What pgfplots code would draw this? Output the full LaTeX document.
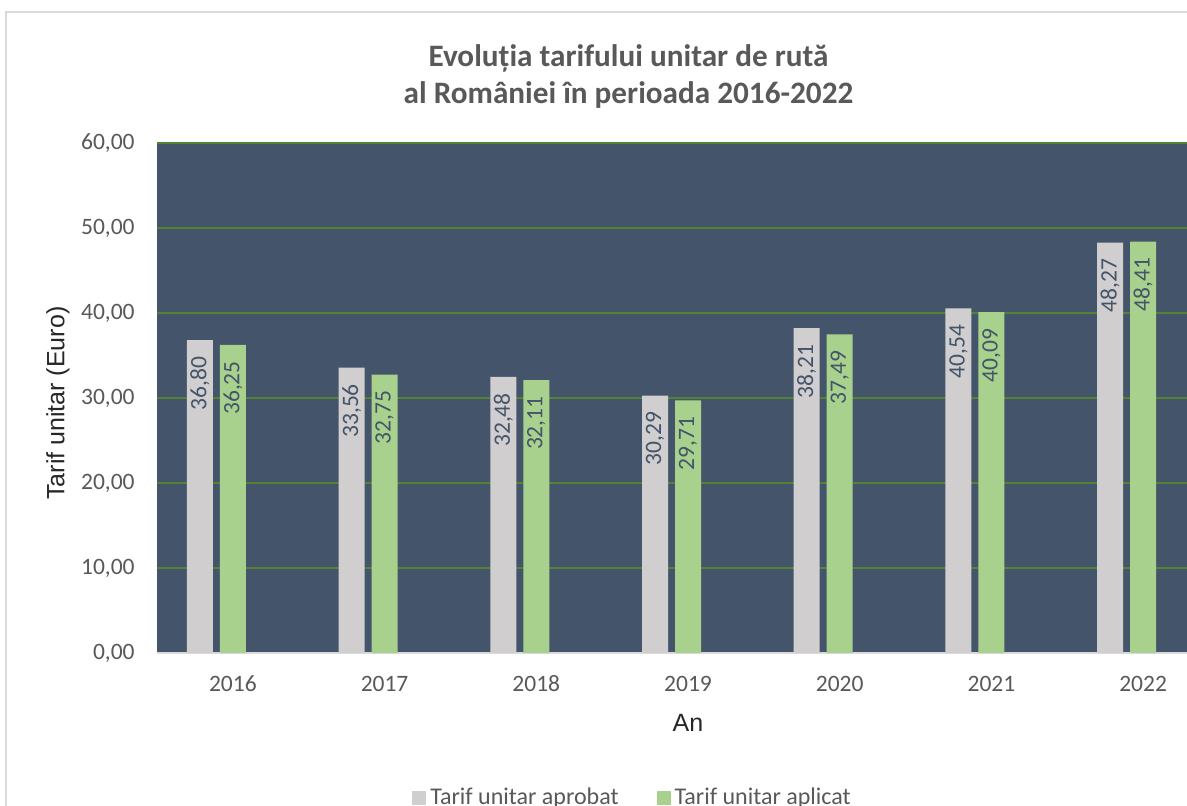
\documentclass[border=0pt]{standalone}
\usepackage{fontspec}
\setmainfont{Carlito}
\newfontfamily\arialf{Liberation Sans}
\usepackage{pgfplots}
\pgfplotsset{compat=1.18}
\definecolor{plotbg}{HTML}{44546A}
\definecolor{gridg}{HTML}{548235}
\definecolor{bargray}{HTML}{D0CECE}
\definecolor{bargreen}{HTML}{A9D18E}
\definecolor{txtgray}{HTML}{595959}
\definecolor{bordergray}{HTML}{D9D9D9}
\definecolor{axtitle}{HTML}{262626}
\begin{document}
\begin{tikzpicture}
\useasboundingbox (0,0) rectangle (593.5pt,403pt);
\clip (0,0) rectangle (593.5pt,403pt);
\fill[white] (0,0) rectangle (593.5pt,403pt);
\draw[bordergray, line width=0.75pt] (3pt,0pt) -- (3pt,397pt) -- (593.5pt,397pt);
\begin{axis}[
  at={(78.5pt,76.5pt)}, anchor=south west,
  scale only axis, width=531pt, height=255pt,
  xmin=-0.5, xmax=6.5, ymin=0, ymax=60,
  xtick={0,1,2,3,4,5,6},
  xticklabels={2016,2017,2018,2019,2020,2021,2022},
  ytick={0,10,20,30,40,50,60},
  axis background/.style={fill=plotbg},
  ymajorgrids, grid style={gridg, line width=0.75pt},
  axis x line*=bottom, axis y line*=left,
  x axis line style={bordergray, line width=1pt, -},
  y axis line style={draw=none},
  major tick length=0pt,
  tick style={draw=none},
  /pgf/number format/assume math mode=true,
  /pgf/number format/fixed,
  /pgf/number format/fixed zerofill,
  /pgf/number format/precision=2,
  /pgf/number format/use comma,
  ticklabel style={font=\fontsize{11.75pt}{13pt}\selectfont, text=txtgray},
  yticklabel style={anchor=east, inner sep=0pt, xshift=-11pt},
  xticklabel style={anchor=base, inner sep=0pt, yshift=-19.5pt},
  xlabel={An}, ylabel={Tarif unitar (Euro)},
  label style={font=\arialf\fontsize{12.5pt}{14pt}\selectfont, text=axtitle},
  xlabel style={at={(axis description cs:0.5,-0.138)}, anchor=center},
  ylabel style={at={(axis description cs:-0.0932,0.49)}, anchor=center},
  legend columns=2,
  legend style={at={(axis description cs:0.240,-0.284)}, anchor=west, draw=none, fill=none,
     inner sep=0pt, font=\fontsize{12pt}{13pt}\selectfont, text=txtgray,
     /tikz/every even column/.append style={column sep=17pt}},
]
\addplot[ybar, bar width=13pt, bar shift=-16.5pt, fill=bargray, draw=none, nodes near coords,
  nodes near coords style={xshift=-16.5pt, rotate=90, anchor=east, inner xsep=8pt, inner ysep=0pt,
     font=\fontsize{11.75pt}{13pt}\selectfont, text=plotbg},
  legend image code/.code={\fill[bargray] (0pt,-3.5pt) rectangle (7pt,3.5pt);}]
  coordinates {(0,36.80) (1,33.56) (2,32.48) (3,30.29) (4,38.21) (5,40.54) (6,48.27)};
\addplot[ybar, bar width=13pt, bar shift=0pt, fill=bargreen, draw=none, nodes near coords,
  nodes near coords style={rotate=90, anchor=east, inner xsep=8pt, inner ysep=0pt,
     font=\fontsize{11.75pt}{13pt}\selectfont, text=plotbg},
  legend image code/.code={\fill[bargreen] (0pt,-3.5pt) rectangle (7pt,3.5pt);}]
  coordinates {(0,36.25) (1,32.75) (2,32.11) (3,29.71) (4,37.49) (5,40.09) (6,48.41)};
\legend{Tarif unitar aprobat, Tarif unitar aplicat}
\end{axis}
\node[anchor=base, font=\bfseries\fontsize{15.6pt}{18pt}\selectfont, text=txtgray] at (314.25pt,369.5pt) {Evoluția tarifului unitar de rută};
\node[anchor=base, font=\bfseries\fontsize{15.6pt}{18pt}\selectfont, text=txtgray] at (314.25pt,351pt) {al României în perioada 2016-2022};
\end{tikzpicture}
\end{document}
